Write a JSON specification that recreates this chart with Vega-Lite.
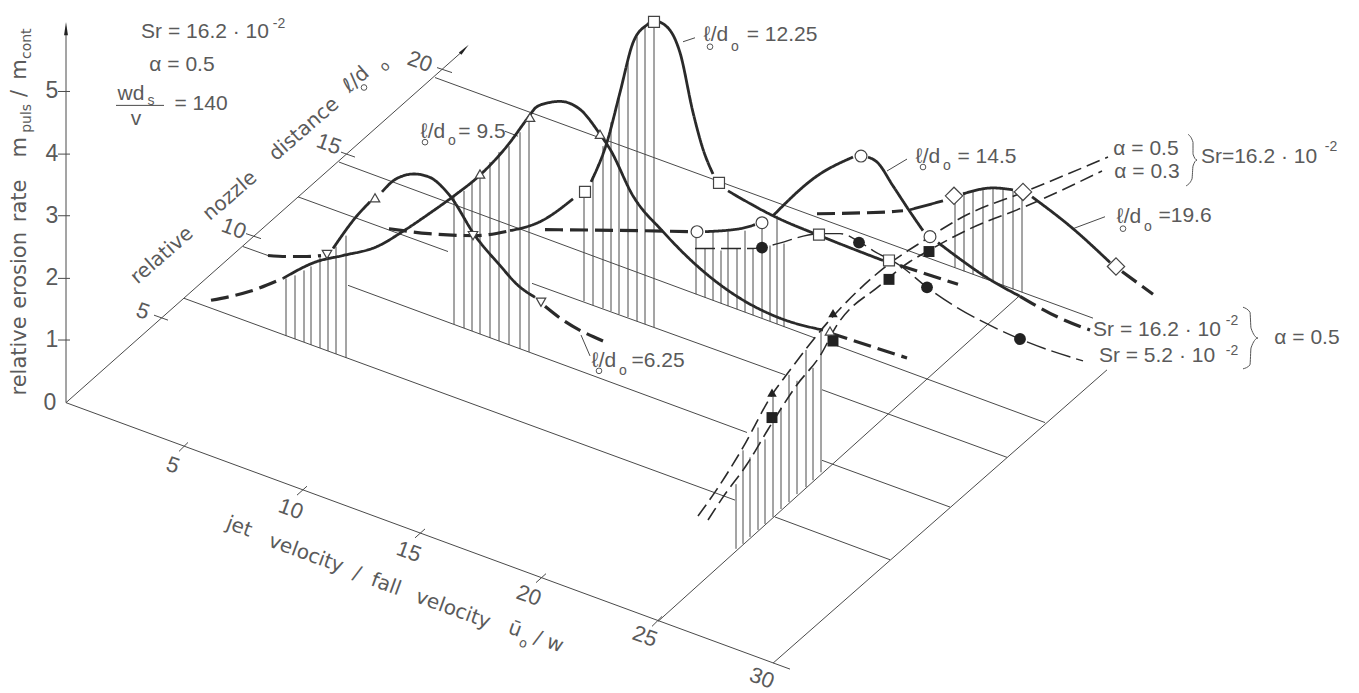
{"$schema":"https://vega.github.io/schema/vega-lite/v6.json","width":1359,"height":693,"autosize":{"type":"fit","contains":"padding"},"padding":0,"background":"white","config":{"view":{"stroke":null},"axis":{"disable":true}},
"datasets":{
"rules":[
{"u":66,"v":405,"u2":66,"v2":30},{"u":58,"v":342,"u2":70,"v2":342},{"u":58,"v":280,"u2":70,"v2":280},{"u":58,"v":217,"u2":70,"v2":217},{"u":58,"v":155,"u2":70,"v2":155},{"u":58,"v":92,"u2":70,"v2":92},
{"u":66,"v":405,"u2":462,"v2":52},{"u":154,"v":317,"u2":168,"v2":322},{"u":246,"v":235,"u2":261,"v2":240},{"u":341,"v":153,"u2":355,"v2":158},{"u":437,"v":68,"u2":452,"v2":73},
{"u":66,"v":405,"u2":790,"v2":673},{"u":179,"v":454,"u2":188,"v2":445},{"u":297,"v":498,"u2":307,"v2":489},{"u":415,"v":541,"u2":425,"v2":532},{"u":536,"v":586,"u2":546,"v2":577},{"u":652,"v":630,"u2":662,"v2":620},
{"u":184,"v":300,"u2":735,"v2":503},{"u":775,"v":520,"u2":890,"v2":563},
{"u":243,"v":248,"u2":268,"v2":257},{"u":348,"v":287,"u2":747,"v2":435},{"u":822,"v":463,"u2":950,"v2":510},
{"u":298,"v":198,"u2":448,"v2":253},{"u":532,"v":285,"u2":785,"v2":377},{"u":822,"v":392,"u2":1007,"v2":460},
{"u":339,"v":163,"u2":815,"v2":340},{"u":835,"v":347,"u2":1045,"v2":425},
{"u":435,"v":78,"u2":1093,"v2":320},
{"u":658,"v":625,"u2":1020,"v2":297},{"u":773,"v":667,"u2":1107,"v2":372},
{"u":116,"v":106,"u2":164,"v2":106},
{"u":505,"v":132,"u2":518,"v2":137},{"u":683,"v":42,"u2":695,"v2":38},{"u":887,"v":172,"u2":907,"v2":160},{"u":1073,"v":230,"u2":1105,"v2":218},{"u":581,"v":337,"u2":590,"v2":358},
{"u":286,"v":280,"u2":286,"v2":338},{"u":295,"v":277,"u2":295,"v2":341},{"u":304,"v":272,"u2":304,"v2":344},{"u":311,"v":268,"u2":311,"v2":347},{"u":320,"v":258,"u2":320,"v2":350},{"u":328,"v":257,"u2":328,"v2":353},{"u":336,"v":248,"u2":336,"v2":356},{"u":346,"v":237,"u2":346,"v2":360},
{"u":454,"v":197,"u2":454,"v2":326},{"u":464,"v":192,"u2":464,"v2":330},{"u":472,"v":183,"u2":472,"v2":333},{"u":480,"v":173,"u2":480,"v2":336},{"u":490,"v":163,"u2":490,"v2":340},{"u":499,"v":153,"u2":499,"v2":343},{"u":509,"v":147,"u2":509,"v2":347},{"u":520,"v":133,"u2":520,"v2":351},{"u":529,"v":118,"u2":529,"v2":354},
{"u":584,"v":193,"u2":584,"v2":303},{"u":593,"v":177,"u2":593,"v2":307},{"u":603,"v":147,"u2":603,"v2":310},{"u":611,"v":123,"u2":611,"v2":313},{"u":619,"v":97,"u2":619,"v2":316},{"u":628,"v":63,"u2":628,"v2":319},{"u":637,"v":37,"u2":637,"v2":323},{"u":645,"v":27,"u2":645,"v2":326},{"u":654,"v":22,"u2":654,"v2":329},
{"u":696,"v":233,"u2":696,"v2":296},{"u":705,"v":250,"u2":705,"v2":299},{"u":713,"v":233,"u2":713,"v2":302},{"u":721,"v":252,"u2":721,"v2":305},{"u":728,"v":233,"u2":728,"v2":308},{"u":737,"v":250,"u2":737,"v2":311},{"u":745,"v":232,"u2":745,"v2":314},{"u":753,"v":250,"u2":753,"v2":317},{"u":762,"v":224,"u2":762,"v2":320},{"u":770,"v":247,"u2":770,"v2":323},{"u":777,"v":217,"u2":777,"v2":326},{"u":784,"v":245,"u2":784,"v2":329},
{"u":955,"v":202,"u2":955,"v2":269},{"u":964,"v":193,"u2":964,"v2":273},{"u":973,"v":192,"u2":973,"v2":276},{"u":983,"v":190,"u2":983,"v2":280},{"u":993,"v":189,"u2":993,"v2":283},{"u":1003,"v":190,"u2":1003,"v2":287},{"u":1013,"v":192,"u2":1013,"v2":291},{"u":1022,"v":195,"u2":1022,"v2":294},
{"u":736,"v":487,"u2":736,"v2":552},{"u":743,"v":453,"u2":743,"v2":547},{"u":750,"v":460,"u2":750,"v2":540},{"u":758,"v":430,"u2":758,"v2":533},{"u":765,"v":442,"u2":765,"v2":527},{"u":773,"v":395,"u2":773,"v2":520},{"u":781,"v":410,"u2":781,"v2":512},{"u":789,"v":377,"u2":789,"v2":505},{"u":797,"v":383,"u2":797,"v2":497},{"u":806,"v":352,"u2":806,"v2":490},{"u":813,"v":370,"u2":813,"v2":483},{"u":821,"v":332,"u2":821,"v2":475}
],
"curves":[
{"s":"a1","k":"dash","i":1,"u":268,"v":257},{"s":"a1","k":"dash","i":2,"u":286,"v":258},{"s":"a1","k":"dash","i":3,"u":307,"v":258},{"s":"a1","k":"dash","i":4,"u":321,"v":257},
{"s":"a2","k":"solid","i":1,"u":333,"v":250},{"s":"a2","k":"solid","i":2,"u":357,"v":217},{"s":"a2","k":"solid","i":3,"u":370,"v":203},
{"s":"a3","k":"solid","i":1,"u":382,"v":193},{"s":"a3","k":"solid","i":2,"u":396,"v":180},{"s":"a3","k":"solid","i":3,"u":414,"v":175},{"s":"a3","k":"solid","i":4,"u":429,"v":178},{"s":"a3","k":"solid","i":5,"u":450,"v":197},{"s":"a3","k":"solid","i":6,"u":475,"v":237},{"s":"a3","k":"solid","i":7,"u":500,"v":267},{"s":"a3","k":"solid","i":8,"u":518,"v":287},{"s":"a3","k":"solid","i":9,"u":535,"v":299},
{"s":"a4","k":"dash","i":1,"u":545,"v":308},{"s":"a4","k":"dash","i":2,"u":563,"v":322},{"s":"a4","k":"dash","i":3,"u":603,"v":343},
{"s":"b1","k":"dash","i":1,"u":211,"v":302},{"s":"b1","k":"dash","i":2,"u":250,"v":293},{"s":"b1","k":"dash","i":3,"u":283,"v":280},
{"s":"b2","k":"solid","i":1,"u":283,"v":280},{"s":"b2","k":"solid","i":2,"u":317,"v":263},{"s":"b2","k":"solid","i":3,"u":343,"v":257},{"s":"b2","k":"solid","i":4,"u":377,"v":248},{"s":"b2","k":"solid","i":5,"u":404,"v":232},{"s":"b2","k":"solid","i":6,"u":429,"v":215},{"s":"b2","k":"solid","i":7,"u":454,"v":197},{"s":"b2","k":"solid","i":8,"u":479,"v":177},{"s":"b2","k":"solid","i":9,"u":507,"v":147},{"s":"b2","k":"solid","i":10,"u":529,"v":117},{"s":"b2","k":"solid","i":11,"u":536,"v":108},{"s":"b2","k":"solid","i":12,"u":550,"v":103},{"s":"b2","k":"solid","i":13,"u":560,"v":102},{"s":"b2","k":"solid","i":14,"u":580,"v":110},{"s":"b2","k":"solid","i":15,"u":600,"v":135},{"s":"b2","k":"solid","i":16,"u":610,"v":150},{"s":"b2","k":"solid","i":17,"u":633,"v":197},{"s":"b2","k":"solid","i":18,"u":663,"v":233},{"s":"b2","k":"solid","i":19,"u":700,"v":270},{"s":"b2","k":"solid","i":20,"u":740,"v":300},{"s":"b2","k":"solid","i":21,"u":780,"v":320},{"s":"b2","k":"solid","i":22,"u":823,"v":332},
{"s":"b3","k":"dash","i":1,"u":830,"v":335},{"s":"b3","k":"dash","i":2,"u":907,"v":360},
{"s":"c1","k":"dash","i":1,"u":389,"v":230},{"s":"c1","k":"dash","i":2,"u":429,"v":235},{"s":"c1","k":"dash","i":3,"u":475,"v":237},{"s":"c1","k":"dash","i":4,"u":510,"v":232},
{"s":"c2","k":"solid","i":1,"u":510,"v":232},{"s":"c2","k":"solid","i":2,"u":540,"v":223},{"s":"c2","k":"solid","i":3,"u":573,"v":200},
{"s":"c3","k":"solid","i":1,"u":591,"v":183},{"s":"c3","k":"solid","i":2,"u":607,"v":143},{"s":"c3","k":"solid","i":3,"u":620,"v":93},{"s":"c3","k":"solid","i":4,"u":633,"v":43},{"s":"c3","k":"solid","i":5,"u":647,"v":25},{"s":"c3","k":"solid","i":6,"u":654,"v":21},{"s":"c3","k":"solid","i":7,"u":667,"v":27},{"s":"c3","k":"solid","i":8,"u":680,"v":53},{"s":"c3","k":"solid","i":9,"u":693,"v":113},{"s":"c3","k":"solid","i":10,"u":703,"v":150},{"s":"c3","k":"solid","i":11,"u":713,"v":175},
{"s":"c4","k":"solid","i":1,"u":728,"v":192},{"s":"c4","k":"solid","i":2,"u":773,"v":217},{"s":"c4","k":"solid","i":3,"u":827,"v":240},{"s":"c4","k":"solid","i":4,"u":883,"v":262},
{"s":"c5","k":"dash","i":1,"u":900,"v":267},{"s":"c5","k":"dash","i":2,"u":958,"v":286},
{"s":"d1","k":"dash","i":1,"u":545,"v":231},{"s":"d1","k":"dash","i":2,"u":640,"v":232},{"s":"d1","k":"dash","i":3,"u":690,"v":233},
{"s":"d2","k":"solid","i":1,"u":705,"v":233},{"s":"d2","k":"solid","i":2,"u":740,"v":230},{"s":"d2","k":"solid","i":3,"u":755,"v":226},
{"s":"d3","k":"solid","i":1,"u":773,"v":217},{"s":"d3","k":"solid","i":2,"u":817,"v":177},{"s":"d3","k":"solid","i":3,"u":853,"v":158},
{"s":"d4","k":"solid","i":1,"u":868,"v":158},{"s":"d4","k":"solid","i":2,"u":877,"v":163},{"s":"d4","k":"solid","i":3,"u":893,"v":187},{"s":"d4","k":"solid","i":4,"u":910,"v":213},{"s":"d4","k":"solid","i":5,"u":923,"v":232},
{"s":"d5","k":"solid","i":1,"u":938,"v":244},{"s":"d5","k":"solid","i":2,"u":993,"v":283},{"s":"d5","k":"solid","i":3,"u":1020,"v":298},
{"s":"d6","k":"dash","i":1,"u":1020,"v":298},{"s":"d6","k":"dash","i":2,"u":1060,"v":320},{"s":"d6","k":"dash","i":3,"u":1090,"v":332},
{"s":"e1","k":"dash","i":1,"u":817,"v":215},{"s":"e1","k":"dash","i":2,"u":890,"v":213},{"s":"e1","k":"dash","i":3,"u":903,"v":212},
{"s":"e2","k":"solid","i":1,"u":910,"v":211},{"s":"e2","k":"solid","i":2,"u":943,"v":202},
{"s":"e3","k":"solid","i":1,"u":963,"v":195},{"s":"e3","k":"solid","i":2,"u":993,"v":189},{"s":"e3","k":"solid","i":3,"u":1013,"v":191},
{"s":"e4","k":"solid","i":1,"u":1032,"v":198},{"s":"e4","k":"solid","i":2,"u":1073,"v":230},{"s":"e4","k":"solid","i":3,"u":1110,"v":264},
{"s":"e5","k":"dash","i":1,"u":1122,"v":273},{"s":"e5","k":"dash","i":2,"u":1153,"v":296},
{"s":"f1","k":"fine","i":1,"u":695,"v":250},{"s":"f1","k":"fine","i":2,"u":753,"v":250},{"s":"f1","k":"fine","i":3,"u":770,"v":247},{"s":"f1","k":"fine","i":4,"u":820,"v":235},{"s":"f1","k":"fine","i":5,"u":840,"v":235},{"s":"f1","k":"fine","i":6,"u":859,"v":243},{"s":"f1","k":"fine","i":7,"u":873,"v":252},{"s":"f1","k":"fine","i":8,"u":900,"v":267},{"s":"f1","k":"fine","i":9,"u":927,"v":289},{"s":"f1","k":"fine","i":10,"u":1020,"v":341},{"s":"f1","k":"fine","i":11,"u":1083,"v":363},
{"s":"g1","k":"thin","i":1,"u":698,"v":519},{"s":"g1","k":"thin","i":2,"u":717,"v":492},{"s":"g1","k":"thin","i":3,"u":743,"v":450},{"s":"g1","k":"thin","i":4,"u":772,"v":397},{"s":"g1","k":"thin","i":5,"u":788,"v":375},{"s":"g1","k":"thin","i":6,"u":827,"v":325},{"s":"g1","k":"thin","i":7,"u":887,"v":267},{"s":"g1","k":"thin","i":8,"u":927,"v":240},{"s":"g1","k":"thin","i":9,"u":963,"v":218},{"s":"g1","k":"thin","i":10,"u":1027,"v":192},{"s":"g1","k":"thin","i":11,"u":1108,"v":158},
{"s":"g2","k":"thin","i":1,"u":708,"v":523},{"s":"g2","k":"thin","i":2,"u":723,"v":500},{"s":"g2","k":"thin","i":3,"u":747,"v":467},{"s":"g2","k":"thin","i":4,"u":768,"v":432},{"s":"g2","k":"thin","i":5,"u":797,"v":387},{"s":"g2","k":"thin","i":6,"u":820,"v":358},{"s":"g2","k":"thin","i":7,"u":837,"v":327},{"s":"g2","k":"thin","i":8,"u":880,"v":287},{"s":"g2","k":"thin","i":9,"u":910,"v":263},{"s":"g2","k":"thin","i":10,"u":927,"v":253},{"s":"g2","k":"thin","i":11,"u":970,"v":230},{"s":"g2","k":"thin","i":12,"u":1027,"v":207},{"s":"g2","k":"thin","i":13,"u":1102,"v":172}
],
"braces":[
{"s":"b1","i":1,"u":1188,"v":135},{"s":"b1","i":2,"u":1193,"v":143},{"s":"b1","i":3,"u":1193,"v":155},{"s":"b1","i":4,"u":1197,"v":161},{"s":"b1","i":5,"u":1193,"v":167},{"s":"b1","i":6,"u":1192,"v":180},{"s":"b1","i":7,"u":1186,"v":187},
{"s":"b2","i":1,"u":1243,"v":309},{"s":"b2","i":2,"u":1250,"v":314},{"s":"b2","i":3,"u":1251,"v":330},{"s":"b2","i":4,"u":1258,"v":340},{"s":"b2","i":5,"u":1251,"v":350},{"s":"b2","i":6,"u":1250,"v":367},{"s":"b2","i":7,"u":1243,"v":371}
],
"points":[
{"u":327,"v":256,"m":"down"},{"u":473,"v":237,"m":"down"},{"u":541,"v":304,"m":"down"},{"u":375,"v":199,"m":"up"},{"u":480,"v":175,"m":"up"},{"u":530,"v":118,"m":"up"},{"u":600,"v":135,"m":"up"},{"u":830,"v":333,"m":"up"},
{"u":585,"v":193,"m":"square"},{"u":654,"v":22,"m":"square"},{"u":719,"v":184,"m":"square"},{"u":819,"v":236,"m":"square"},{"u":889,"v":262,"m":"square"},
{"u":697,"v":233,"m":"circle"},{"u":762,"v":224,"m":"circle"},{"u":861,"v":157,"m":"circle"},{"u":930,"v":238,"m":"circle"},
{"u":954,"v":197,"m":"diamond"},{"u":1023,"v":193,"m":"diamond"},{"u":1116,"v":268,"m":"diamond"}
],
"solids":[
{"u":762,"v":249,"m":"circle"},{"u":859,"v":244,"m":"circle"},{"u":927,"v":289,"m":"circle"},{"u":1020,"v":341,"m":"circle"},
{"u":772,"v":420,"m":"square"},{"u":833,"v":343,"m":"square"},{"u":889,"v":281,"m":"square"},{"u":929,"v":253,"m":"square"},
{"u":772,"v":395,"m":"up"},{"u":833,"v":315,"m":"up"}
],
"loops":[{"u":425,"v":143},{"u":710,"v":47},{"u":923,"v":168},{"u":599,"v":373},{"u":1123,"v":230},{"u":364,"v":88}],
"arrows":[{"u":66,"v":31,"a":"vertical"}],
"arrows2":[{"u":463,"v":51,"a":"nozzle"}],
"t0":[
{"u":205,"v":32,"t":"Sr = 16.2 · 10"},{"u":182,"v":65,"t":"α   = 0.5"},{"u":131,"v":95,"t":"wd"},{"u":136,"v":120,"t":"v"},{"u":201,"v":105,"t":"= 140"},
{"u":433,"v":133,"t":"ℓ/d"},{"u":482,"v":133,"t":"= 9.5"},{"u":716,"v":35,"t":"ℓ/d"},{"u":782,"v":35,"t":"= 12.25"},{"u":928,"v":158,"t":"ℓ/d"},{"u":987,"v":158,"t":"= 14.5"},{"u":604,"v":363,"t":"ℓ/d"},{"u":658,"v":363,"t":"=6.25"},{"u":1129,"v":218,"t":"ℓ/d"},{"u":1185,"v":217,"t":"=19.6"},
{"u":1146,"v":150,"t":"α = 0.5"},{"u":1147,"v":173,"t":"α = 0.3"},{"u":1259,"v":158,"t":"Sr=16.2 · 10"},{"u":1157,"v":332,"t":"Sr = 16.2 · 10"},{"u":1157,"v":358,"t":"Sr =  5.2 · 10"},{"u":1307,"v":340,"t":"α  = 0.5"}
],
"num":[{"u":52,"v":92,"t":"5"},{"u":52,"v":155,"t":"4"},{"u":52,"v":217,"t":"3"},{"u":52,"v":280,"t":"2"},{"u":52,"v":342,"t":"1"},{"u":50,"v":405,"t":"0"}],
"t0s":[
{"u":279,"v":24,"t":"-2"},{"u":151,"v":102,"t":"s"},{"u":452,"v":142,"t":"o"},{"u":735,"v":47,"t":"o"},{"u":947,"v":167,"t":"o"},{"u":623,"v":373,"t":"o"},{"u":1148,"v":228,"t":"o"},{"u":1331,"v":148,"t":"-2"},{"u":1232,"v":323,"t":"-2"},{"u":1232,"v":353,"t":"-2"}
],
"tv":[{"u":20,"v":358,"t":"relative"},{"u":20,"v":272,"t":"erosion"},{"u":20,"v":202,"t":"rate"},{"u":20,"v":148,"t":"m"},{"u":20,"v":94,"t":"/"},{"u":20,"v":70,"t":"m"}],
"tvs":[{"u":27,"v":119,"t":"puls"},{"u":27,"v":44,"t":"cont"}],
"tl":[{"u":162,"v":257,"t":"relative"},{"u":230,"v":197,"t":"nozzle"},{"u":304,"v":130,"t":"distance"},{"u":356,"v":80,"t":"ℓ/d"}],
"tls":[{"u":385,"v":67,"t":"o"}],
"tx":[{"u":239,"v":530,"t":"jet"},{"u":306,"v":557,"t":"velocity"},{"u":357,"v":577,"t":"/"},{"u":386,"v":588,"t":"fall"},{"u":453,"v":613,"t":"velocity"},{"u":515,"v":633,"t":"ū"},{"u":538,"v":642,"t":"/"},{"u":555,"v":648,"t":"w"}],
"txs":[{"u":523,"v":647,"t":"o"}],
"tick":[{"u":143,"v":313,"t":"5"},{"u":234,"v":230,"t":"10"},{"u":329,"v":145,"t":"15"},{"u":420,"v":62,"t":"20"},{"u":173,"v":468,"t":"5"},{"u":291,"v":512,"t":"10"},{"u":409,"v":555,"t":"15"},{"u":529,"v":599,"t":"20"},{"u":645,"v":640,"t":"25"},{"u":762,"v":682,"t":"30"}]
},
"encoding":{"x":{"field":"u","type":"quantitative","scale":{"domain":[0,1359],"nice":false,"zero":false},"axis":null},"y":{"field":"v","type":"quantitative","scale":{"domain":[693,0],"nice":false,"zero":false},"axis":null}},
"layer":[
{"data":{"name":"rules"},"mark":{"type":"rule","color":"#4a4a4a","strokeWidth":1},"encoding":{"x2":{"field":"u2"},"y2":{"field":"v2"}}},
{"data":{"name":"curves"},"mark":{"type":"line","interpolate":"monotone","color":"#2a2a2a"},"encoding":{"detail":{"field":"s"},"order":{"field":"i"},"strokeDash":{"field":"k","scale":{"domain":["solid","dash","thin","fine"],"range":[[1,0],[18,7],[14,6],[20,6]]},"legend":null},"strokeWidth":{"field":"k","scale":{"type":"ordinal","domain":["solid","dash","thin","fine"],"range":[2.8,3.2,1.6,1.4]},"legend":null}}},
{"data":{"name":"braces"},"mark":{"type":"line","interpolate":"monotone","color":"#555","strokeWidth":1},"encoding":{"detail":{"field":"s"},"order":{"field":"i"}}},
{"data":{"name":"points"},"mark":{"type":"point","filled":true,"fill":"white","stroke":"#444","strokeWidth":1.2,"opacity":1},"encoding":{"shape":{"field":"m","scale":{"domain":["down","up","square","circle","diamond"],"range":["triangle-down","triangle-up","square","circle","diamond"]},"legend":null},"size":{"field":"m","scale":{"type":"ordinal","domain":["down","up","square","circle","diamond"],"range":[90,90,120,140,300]},"legend":null}}},
{"data":{"name":"solids"},"mark":{"type":"point","filled":true,"color":"#222","opacity":1},"encoding":{"shape":{"field":"m","scale":{"domain":["up","square","circle"],"range":["triangle-up","square","circle"]},"legend":null},"size":{"field":"m","scale":{"type":"ordinal","domain":["up","square","circle"],"range":[150,110,120]},"legend":null}}},
{"data":{"name":"loops"},"mark":{"type":"point","shape":"circle","color":"#555","strokeWidth":1,"size":32,"opacity":1}},
{"data":{"name":"arrows"},"mark":{"type":"point","filled":true,"shape":"wedge","color":"#222","size":240,"opacity":1}},
{"data":{"name":"arrows2"},"mark":{"type":"point","filled":true,"shape":"wedge","color":"#222","size":200,"angle":44,"opacity":1}},
{"data":{"name":"t0"},"mark":{"type":"text","font":"Liberation Sans","fontSize":21,"color":"#5a5a5a"},"encoding":{"text":{"field":"t"}}},
{"data":{"name":"num"},"mark":{"type":"text","font":"Liberation Sans","fontSize":23,"color":"#5a5a5a"},"encoding":{"text":{"field":"t"}}},
{"data":{"name":"t0s"},"mark":{"type":"text","font":"Liberation Sans","fontSize":14,"color":"#5a5a5a"},"encoding":{"text":{"field":"t"}}},
{"data":{"name":"tv"},"mark":{"type":"text","font":"DejaVu Sans","fontSize":21,"color":"#5a5a5a","angle":-90},"encoding":{"text":{"field":"t"}}},
{"data":{"name":"tvs"},"mark":{"type":"text","font":"DejaVu Sans","fontSize":14,"color":"#5a5a5a","angle":-90},"encoding":{"text":{"field":"t"}}},
{"data":{"name":"tl"},"mark":{"type":"text","font":"DejaVu Sans","fontSize":20,"color":"#5a5a5a","angle":-41},"encoding":{"text":{"field":"t"}}},
{"data":{"name":"tls"},"mark":{"type":"text","font":"DejaVu Sans","fontSize":14,"color":"#5a5a5a","angle":-41},"encoding":{"text":{"field":"t"}}},
{"data":{"name":"tx"},"mark":{"type":"text","font":"DejaVu Sans","fontSize":20,"color":"#5a5a5a","angle":20},"encoding":{"text":{"field":"t"}}},
{"data":{"name":"txs"},"mark":{"type":"text","font":"DejaVu Sans","fontSize":13,"color":"#5a5a5a","angle":20},"encoding":{"text":{"field":"t"}}},
{"data":{"name":"tick"},"mark":{"type":"text","font":"Liberation Sans","fontSize":22,"color":"#5a5a5a","angle":20},"encoding":{"text":{"field":"t"}}}
]}
